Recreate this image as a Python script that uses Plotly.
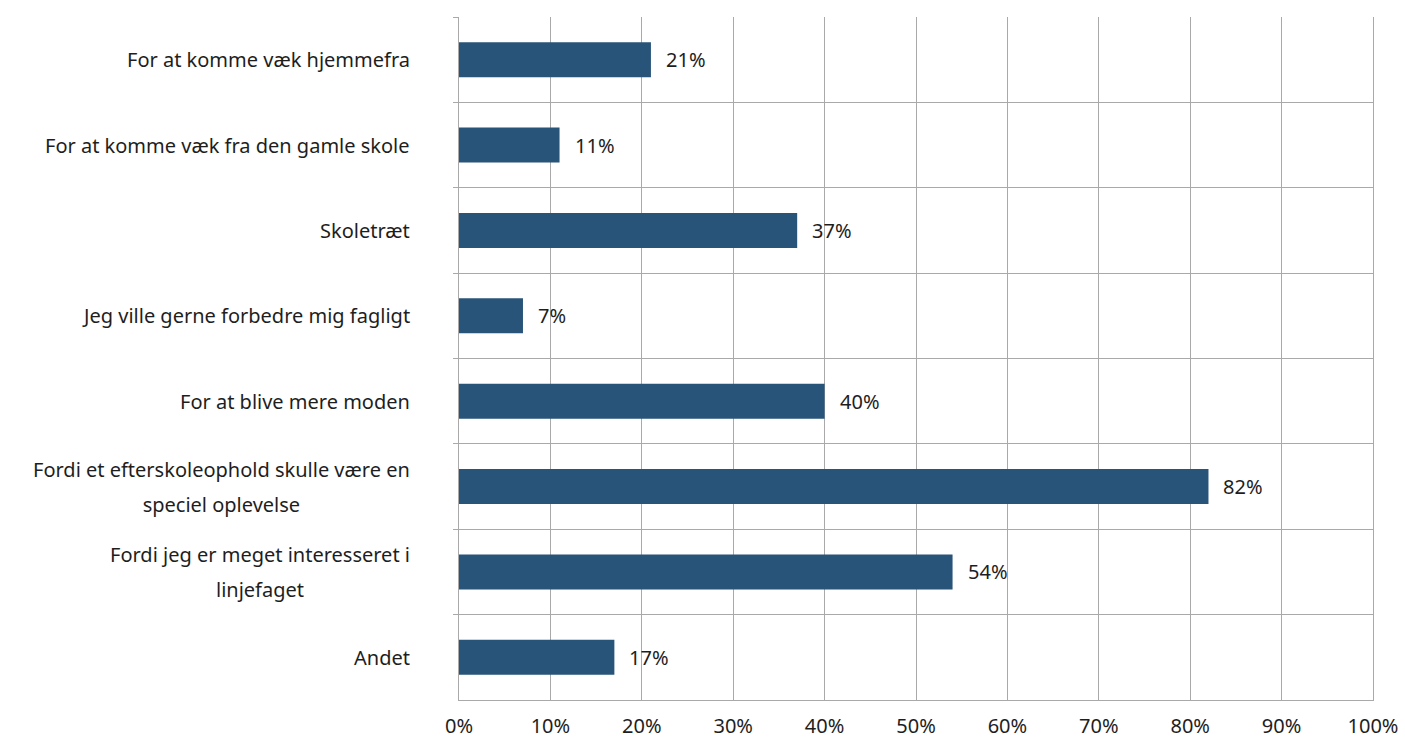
import plotly.graph_objects as go

categories = [
    "For at komme væk hjemmefra",
    "For at komme væk fra den gamle skole",
    "Skoletræt",
    "Jeg ville gerne forbedre mig fagligt",
    "For at blive mere moden",
    "Fordi et efterskoleophold skulle være en<br>speciel oplevelse",
    "Fordi jeg er meget interesseret i<br>linjefaget",
    "Andet",
]
values = [0.21, 0.11, 0.37, 0.07, 0.40, 0.82, 0.54, 0.17]
x_ticks = [0, 0.1, 0.2, 0.3, 0.4, 0.5, 0.6, 0.7, 0.8, 0.9, 1.0]

FONT = "Noto Sans"
TXT = "#1e1e1e"
GRID = "#a9a9a9"
BAR = "#285479"

fig = go.Figure()
fig.add_trace(go.Bar(
    x=values, y=categories, orientation="h",
    marker=dict(color=BAR, line=dict(width=0)),
    width=0.41, hoverinfo="skip",
))

annotations = []
for c, v in zip(categories, values):
    annotations.append(dict(
        x=v, y=c, xref="x", yref="y", xanchor="left", yanchor="middle",
        xshift=13, showarrow=False, text=f"{round(v*100)}%",
        font=dict(family=FONT, size=20, color=TXT),
    ))
    lines = c.split("<br>")
    txt = "<br>".join(f"<span style='font-size:20px'>{l}</span>" for l in lines)
    annotations.append(dict(
        x=0, y=c, xref="paper", yref="y", xanchor="right", yanchor="middle",
        xshift=-47, showarrow=False, align="center", text=txt,
        font=dict(family=FONT, size=27 if len(lines) > 1 else 20, color=TXT),
    ))

fig.update_layout(
    width=1405, height=740,
    margin=dict(l=459, r=32, t=17, b=40),
    paper_bgcolor="white", plot_bgcolor="white",
    showlegend=False,
    font=dict(family=FONT, size=20, color=TXT),
    annotations=annotations,
    xaxis=dict(
        range=[0, 1], tickvals=x_ticks, tickformat=".0%",
        showgrid=True, gridcolor=GRID, gridwidth=1,
        showline=True, linecolor=GRID, linewidth=1,
        ticks="", zeroline=False, ticklabelstandoff=8,
        automargin=False,
        tickfont=dict(family=FONT, size=20, color=TXT),
    ),
    xaxis2=dict(
        overlaying="x", side="top", range=[0, 1], tickvals=x_ticks,
        ticks="outside", ticklen=5, tickcolor=GRID, tickwidth=1,
        showticklabels=False, showgrid=False, showline=False,
        zeroline=False, automargin=False,
    ),
    yaxis=dict(
        type="category", autorange="reversed",
        tickson="boundaries", ticks="outside", ticklen=5, tickcolor=GRID,
        showgrid=True, gridcolor=GRID, gridwidth=1,
        showline=True, linecolor=GRID, linewidth=1, mirror=True,
        showticklabels=False, zeroline=False, automargin=False,
    ),
)

fig.write_html(
    "out.html",
    config={"displayModeBar": False},
    post_script="document.body.style.margin='0';document.body.style.overflow='hidden';",
)
